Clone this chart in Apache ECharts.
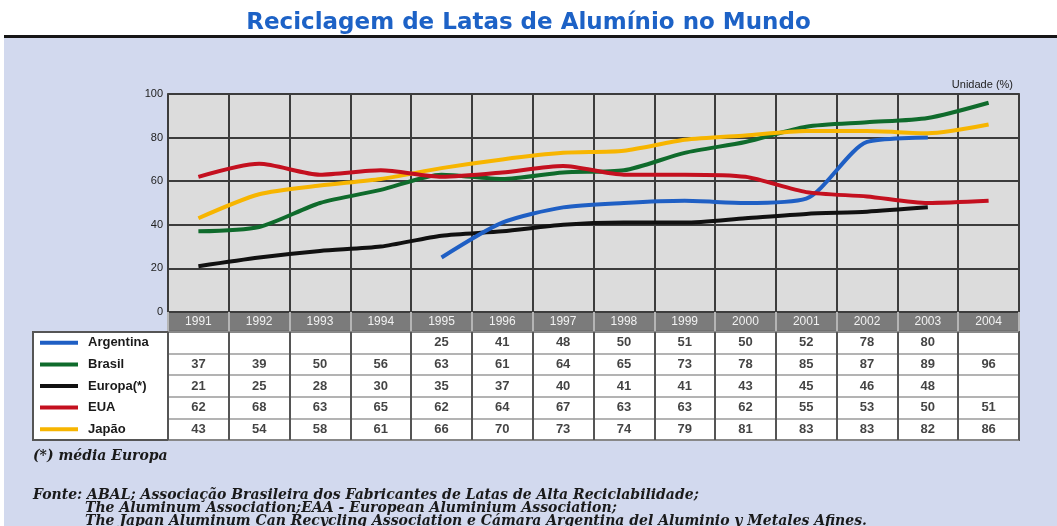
<!DOCTYPE html>
<html>
<head>
<meta charset="utf-8">
<script src="https://cdn.jsdelivr.net/npm/echarts@6/dist/echarts.min.js"></script>
<style>
  html, body { margin: 0; padding: 0; background: #fff; }
  #container { width: 1057px; height: 526px; }
</style>
</head>
<body>
<div id="container"></div>
<script>
  var dom = document.getElementById("container");
  var myChart = echarts.init(dom);

  // dados (tabela do gráfico)
  var anos = ['1991', '1992', '1993', '1994', '1995', '1996', '1997', '1998', '1999', '2000', '2001', '2002', '2003', '2004'];
  var paises = ['Argentina', 'Brasil', 'Europa(*)', 'EUA', 'Japão'];
  var argentina = [null, null, null, null, 25, 41, 48, 50, 51, 50, 52, 78, 80, null];
  var brasil = [37, 39, 50, 56, 63, 61, 64, 65, 73, 78, 85, 87, 89, 96];
  var europa = [21, 25, 28, 30, 35, 37, 40, 41, 41, 43, 45, 46, 48, null];
  var eua = [62, 68, 63, 65, 62, 64, 67, 63, 63, 62, 55, 53, 50, 51];
  var japao = [43, 54, 58, 61, 66, 70, 73, 74, 79, 81, 83, 83, 82, 86];
  var eixoY = [0, 20, 40, 60, 80, 100];

  var cores = ['#1f5fc4', '#0f6b2c', '#111111', '#c4101f', '#f7b500'];
  var valores = [argentina, brasil, europa, eua, japao];

  // celulas da tabela
  var celulas = [];
  valores.forEach(function (serie, i) {
      serie.forEach(function (v, j) {
          if (v !== null) celulas.push([j, i, v]);
      });
  });

  var rich = {};
  paises.forEach(function (p, i) {
      rich['l' + i] = { backgroundColor: cores[i], width: 38, height: 4 };
  });
  rich.nome = { fontFamily: 'Liberation Sans', fontWeight: 'bold', fontSize: 13, color: '#1a1a1a', padding: [0, 0, 0, 10] };

  var linhas = [
      { nome: 'Europa(*)', idx: 2 },
      { nome: 'Argentina', idx: 0 },
      { nome: 'Brasil', idx: 1 },
      { nome: 'Japão', idx: 4 },
      { nome: 'EUA', idx: 3 }
  ];

  var fonteNota = 'italic bold 14px "DejaVu Serif"';

  option = {
      backgroundColor: '#fff',
      title: {
          text: 'Reciclagem de Latas de Alumínio no Mundo',
          left: 'center',
          top: 7,
          textStyle: {
              fontFamily: 'DejaVu Sans',
              fontWeight: 'bold',
              fontSize: 23,
              color: '#1d62c6'
          }
      },
      graphic: [
          { type: 'rect', z: -2, shape: { x: 4, y: 38, width: 1053, height: 488 }, style: { fill: '#d2d9ee' } },
          { type: 'rect', z: -2, shape: { x: 4, y: 35, width: 1053, height: 3 }, style: { fill: '#161616' } },
          { type: 'rect', z: -1, shape: { x: 33, y: 332, width: 135, height: 108 }, style: { fill: '#fff', stroke: '#555', lineWidth: 2 } },
          { type: 'text', style: { x: 1013, y: 79, text: 'Unidade (%)', textAlign: 'right', font: '11px "Liberation Sans"', fill: '#222' } },
          { type: 'text', style: { x: 33, y: 456, verticalAlign: 'middle', text: '(*) média Europa', font: fonteNota, fill: '#1a1a1a' } },
          { type: 'text', style: { x: 33, y: 495, verticalAlign: 'middle', text: 'Fonte: ABAL; Associação Brasileira dos Fabricantes de Latas de Alta Reciclabilidade;', font: fonteNota, fill: '#1a1a1a' } },
          { type: 'text', style: { x: 85, y: 508, verticalAlign: 'middle', text: 'The Aluminum Association;EAA - European Aluminium Association;', font: fonteNota, fill: '#1a1a1a' } },
          { type: 'text', style: { x: 85, y: 521, verticalAlign: 'middle', text: 'The Japan Aluminum Can Recycling Association e Cámara Argentina del Aluminio y Metales Afines.', font: fonteNota, fill: '#1a1a1a' } }
      ],
      grid: [
          { left: 168, right: 38, top: 94, height: 218, show: true, backgroundColor: '#dcdcdc', borderColor: '#555', borderWidth: 2 },
          { left: 168, right: 38, top: 312, height: 19, show: true, backgroundColor: '#7b7b7b', borderColor: '#666', borderWidth: 1 },
          { left: 168, right: 38, top: 332, height: 108, show: true, backgroundColor: '#fff', borderColor: '#555', borderWidth: 2 }
      ],
      xAxis: [
          {
              gridIndex: 0, type: 'category', data: anos, boundaryGap: true,
              axisLine: { show: false }, axisTick: { show: false }, axisLabel: { show: false },
              splitLine: { show: true, interval: 0, lineStyle: { color: '#3c3c3c', width: 2 } }
          },
          {
              gridIndex: 1, type: 'category', data: anos, position: 'bottom',
              axisLine: { show: false }, axisTick: { show: false },
              axisLabel: { inside: true, margin: 3, interval: 0, color: '#f2f2f2', fontFamily: 'Liberation Sans', fontSize: 12 },
              splitLine: { show: true, interval: 0, lineStyle: { color: '#b5b5b5', width: 2 } }
          },
          {
              gridIndex: 2, type: 'category', data: anos,
              axisLine: { show: false }, axisTick: { show: false }, axisLabel: { show: false },
              splitLine: { show: true, interval: 0, lineStyle: { color: '#555', width: 2 } }
          }
      ],
      yAxis: [
          {
              gridIndex: 0, type: 'value', min: eixoY[0], max: eixoY[eixoY.length - 1], interval: 20,
              axisLine: { show: false }, axisTick: { show: false },
              axisLabel: { margin: 5, color: '#222', fontFamily: 'Liberation Sans', fontSize: 11 },
              splitLine: { lineStyle: { color: '#3c3c3c', width: 2 } }
          },
          { gridIndex: 1, type: 'value', show: false },
          {
              gridIndex: 2, type: 'category', data: paises, inverse: true,
              axisLine: { show: false }, axisTick: { show: false },
              axisLabel: {
                  align: 'left', margin: 128,
                  formatter: function (v, i) { return '{l' + i + '|}{nome|' + v + '}'; },
                  rich: rich
              },
              splitLine: { show: true, interval: 0, lineStyle: { color: '#9a9a9a', width: 1.5 } }
          }
      ],
      series: linhas.map(function (l) {
          return {
              name: l.nome, type: 'line', xAxisIndex: 0, yAxisIndex: 0,
              data: valores[l.idx], smooth: 0.25, symbol: 'none',
              lineStyle: { color: cores[l.idx], width: 4 }
          };
      }).concat([{
          type: 'scatter', xAxisIndex: 2, yAxisIndex: 2, data: celulas,
          symbolSize: 0, silent: true,
          label: {
              show: true, position: 'inside', color: '#141414',
              fontFamily: 'Liberation Sans', fontWeight: 'bold', fontSize: 13,
              formatter: function (p) { return p.value[2]; }
          }
      }])
  };

  if (option && typeof option === "object") {
      myChart.setOption(option, true);
  }
</script>
</body>
</html>
